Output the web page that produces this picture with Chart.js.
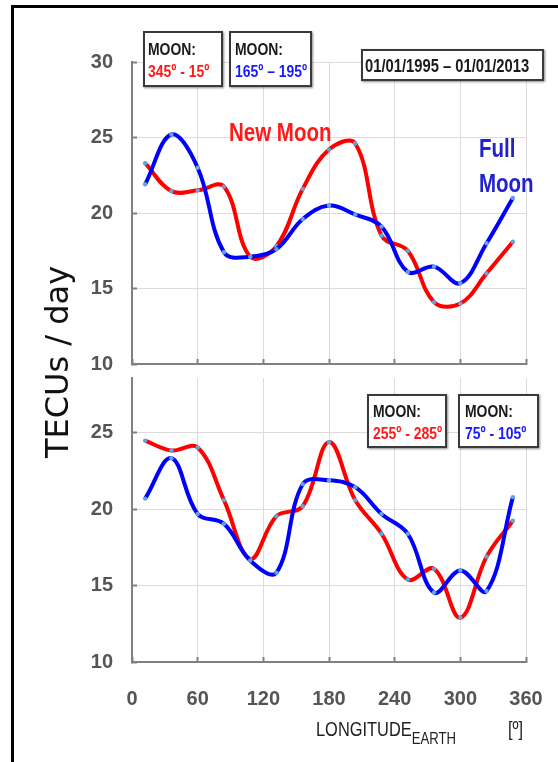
<!DOCTYPE html>
<html><head><meta charset="utf-8">
<script src="https://cdn.jsdelivr.net/npm/chart.js@4"></script>
<style>
html,body{margin:0;padding:0;background:#fff;width:558px;height:762px;overflow:hidden;position:relative;}
#frame{position:absolute;left:11px;top:5px;width:700px;height:900px;border-left:3px solid #000;border-top:3px solid #000;}
canvas{position:absolute;left:0;}
.t{position:absolute;white-space:nowrap;font-family:"Liberation Sans Narrow","Liberation Sans",Arial,sans-serif;font-weight:bold;line-height:1;transform:scaleX(.82);transform-origin:0 0;}
.box{position:absolute;background:#fff;border:2px solid #3a3a3a;box-shadow:1px 1px 2px rgba(0,0,0,.45);box-sizing:border-box;}
.box .t{font-size:17px;}
.blk{color:#1a1a1a;}
.red{color:#ff1a1a;}
.blu{color:#1a1aff;}
</style></head>
<body>
<div id="frame"></div>
<canvas id="c1" width="558" height="370" style="top:0"></canvas>
<canvas id="c2" width="558" height="392" style="top:370px"></canvas>

<div class="box" style="left:143px;top:31px;width:80px;height:56px;">
  <div class="t blk" style="left:3px;top:8px;">MOON:</div>
  <div class="t red" style="left:3px;top:30px;">345º - 15º</div>
</div>
<div class="box" style="left:229px;top:31px;width:83px;height:56px;">
  <div class="t blk" style="left:4px;top:8px;">MOON:</div>
  <div class="t blu" style="left:4px;top:30px;">165º – 195º</div>
</div>
<div class="box" style="left:361px;top:49px;width:183px;height:32px;">
  <div class="t blk" style="left:2px;top:6px;font-size:18px;">01/01/1995 – 01/01/2013</div>
</div>
<div class="box" style="left:367px;top:394px;width:80px;height:54px;">
  <div class="t blk" style="left:4px;top:7px;">MOON:</div>
  <div class="t red" style="left:4px;top:29px;">255º - 285º</div>
</div>
<div class="box" style="left:458px;top:394px;width:81px;height:54px;">
  <div class="t blk" style="left:5px;top:7px;">MOON:</div>
  <div class="t blu" style="left:5px;top:29px;">75º - 105º</div>
</div>

<div class="t" style="left:229px;top:120px;font-size:25px;color:#ff1a1a;">New Moon</div>
<div class="t" style="left:479px;top:136px;font-size:25px;color:#2222cc;">Full</div>
<div class="t" style="left:479px;top:171px;font-size:25px;color:#2222cc;">Moon</div>

<div style="position:absolute;left:-43px;top:346px;width:200px;height:32px;line-height:32px;text-align:center;transform:rotate(-90deg);font-family:'DejaVu Sans',sans-serif;font-size:32px;color:#111;white-space:nowrap;">TECUs / day</div>

<div class="t" style="left:316px;top:719px;font-size:20px;font-weight:normal;color:#222;">LONGITUDE<span style="font-size:16px;position:relative;top:8px;">EARTH</span></div>
<div class="t" style="left:508px;top:719px;font-size:20px;font-weight:normal;color:#222;">[º]</div>

<script>
const longitudes = [12,36,60,84,108,132,156,180,204,228,252,276,300,324,348];
const xTickValues = [0,60,120,180,240,300,360];
const yTickValues = [10,15,20,25,30];

// Top panel: Moon 345º-15º (New Moon, red) / Moon 165º-195º (Full Moon, blue)
const topNewMoon  = [23.3,21.45,21.5,21.75,17.1,17.8,21.6,24.2,24.6,18.5,17.5,14.1,14.0,16.0,18.1];
const topFullMoon = [21.9,25.2,23.0,17.4,17.1,17.6,19.6,20.5,19.9,19.1,16.1,16.45,15.35,18.0,21.0];

// Bottom panel: Moon 255º-285º (red) / Moon 75º-105º (blue)
const botRed  = [24.5,23.85,24.05,20.6,16.75,19.55,20.2,24.4,20.6,18.4,15.4,16.1,12.9,16.9,19.25];
const botBlue = [20.7,23.35,19.7,19.05,16.65,15.85,21.65,21.9,21.45,19.7,18.4,14.55,16.0,14.65,20.8];

const FONT = '"Liberation Sans",Arial,sans-serif';

function pts(vals){ return longitudes.map((x,i)=>({x:x,y:vals[i]})); }

function ds(vals,color){
  return {data:pts(vals),borderColor:color,borderWidth:4,tension:0.38,
    pointRadius:2.2,pointBorderWidth:0,pointBackgroundColor:'#62a3dc',fill:false};
}

function noPad(s){ s.paddingTop=0; s.paddingBottom=0; s.paddingLeft=0; s.paddingRight=0; }

function makeChart(id, redVals, blueVals, yMax, showX, xH, padTop){
  return new Chart(document.getElementById(id),{
    type:'line',
    data:{datasets:[ds(blueVals,'#0000ff'), ds(redVals,'#ff0000')]},
    options:{
      responsive:false,animation:false,events:[],
      layout:{padding:{top:padTop,right:32,left:0,bottom:0}},
      plugins:{legend:{display:false},tooltip:{enabled:false}},
      scales:{
        x:{type:'linear',min:0,max:360,
          afterBuildTicks(s){ s.ticks = xTickValues.map(v=>({value:v})); },
          border:{color:'#808080',width:2},
          grid:{color:'#dcdcdc',lineWidth:1,tickLength:-5,tickColor:'#808080',tickWidth:2},
          ticks:{display:showX,padding:30,color:'#555',maxRotation:0,
            font:{family:FONT,size:20,weight:'bold'}},
          afterFit(s){ s.height = xH; noPad(s); }
        },
        y:{type:'linear',min:10,max:yMax,
          afterBuildTicks(s){ s.ticks = yTickValues.filter(v=>v<=yMax).map(v=>({value:v})); },
          border:{color:'#808080',width:2},
          grid:{color:'#dcdcdc',lineWidth:1,tickLength:-5,tickColor:'#808080',tickWidth:2},
          ticks:{padding:24,color:'#555',font:{family:FONT,size:20,weight:'bold'}},
          afterFit(s){ s.width = 132; noPad(s); }
        }
      }
    }
  });
}

makeChart('c1', topNewMoon, topFullMoon, 30, false, 6, 62);
makeChart('c2', botRed, botBlue, 28.6, true, 100, 8);
</script>
</body></html>
